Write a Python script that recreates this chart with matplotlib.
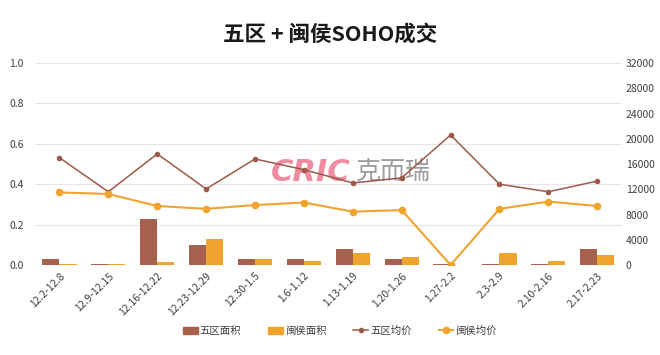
import matplotlib
matplotlib.use("Agg")
import matplotlib.pyplot as plt
import matplotlib.transforms as mtransforms
import numpy as np
from matplotlib.lines import Line2D
from matplotlib.patches import Patch

plt.rcParams['font.family'] = ['Noto Sans CJK SC', 'DejaVu Sans']

categories = ['12.2-12.8', '12.9-12.15', '12.16-12.22', '12.23-12.29', '12.30-1.5', '1.6-1.12',
              '1.13-1.19', '1.20-1.26', '1.27-2.2', '2.3-2.9', '2.10-2.16', '2.17-2.23']
wuqu_area = [0.03, 0.005, 0.23, 0.10, 0.03, 0.03, 0.08, 0.03, 0.005, 0.005, 0.005, 0.08]
minhou_area = [0.005, 0.005, 0.015, 0.13, 0.03, 0.02, 0.06, 0.04, 0.0, 0.06, 0.02, 0.05]
wuqu_price = [17000, 11600, 17600, 12050, 16800, 15100, 13000, 13800, 20600, 12800, 11600, 13300]
minhou_price = [11500, 11250, 9350, 8900, 9500, 9900, 8450, 8700, 0, 8900, 10050, 9350]
left_ticks = [0.0, 0.2, 0.4, 0.6, 0.8, 1.0]
right_ticks = [0, 4000, 8000, 12000, 16000, 20000, 24000, 28000, 32000]

c_brown = '#A5614B'
c_orange = '#F0A42E'
txt = '#404040'

fig = plt.figure(figsize=(6.6, 3.55), dpi=100)
ax = fig.add_axes([0.053, 0.2535, 0.889, 0.569])
ax2 = ax.twinx()

x = np.arange(len(categories))
w = 0.35
ax.bar(x - w/2, wuqu_area, w, color=c_brown, zorder=2)
ax.bar(x + w/2, minhou_area, w, color=c_orange, zorder=2)
ax.set_ylim(0, 1.0)
ax.set_xlim(-0.5, len(categories) - 0.5)
ax.set_yticks(left_ticks)
ax.set_yticklabels([f'{v:.1f}' for v in left_ticks])
ax.grid(axis='y', color='#E6E6E6', linewidth=0.8, zorder=0)
ax.set_axisbelow(True)
ax.set_xticks(x)
ax.set_xticklabels(categories, rotation=45, ha='right', rotation_mode='anchor')
offset = mtransforms.ScaledTranslation(-8/100, 0, fig.dpi_scale_trans)
for lab in ax.get_xticklabels():
    lab.set_transform(lab.get_transform() + offset)

ax2.plot(x, wuqu_price, color='#9C5A4A', linewidth=1.1, marker='o', markersize=3, zorder=3)
ax2.plot(x, minhou_price, color=c_orange, linewidth=1.5, marker='o', markersize=4.5, zorder=3)
ax2.set_ylim(0, 32000)
ax2.set_yticks(right_ticks)

for a in (ax, ax2):
    for s in a.spines.values():
        s.set_visible(False)
    a.tick_params(length=0, labelsize=7.5, colors=txt)
ax.tick_params(axis='x', pad=4)
ax.tick_params(axis='y', pad=8)
ax2.tick_params(axis='y', pad=3)
ax.axhline(0, color='#D9D9D9', linewidth=0.8, zorder=1)

# watermark (under the lines)
ax2.text(0.410, 0.515, 'CRIC', color='#EE7F96', fontsize=22, fontweight='bold',
         fontstyle='italic', family=['DejaVu Sans'], ha='left', va='center', alpha=0.9,
         zorder=1, transform=fig.transFigure)
ax2.text(0.540, 0.515, '克而瑞', color='#8C8C8C', fontsize=18, ha='left', va='center',
         alpha=0.85, zorder=1, transform=fig.transFigure)

fig.text(0.5, 0.905, '五区 + 闽侯SOHO成交', fontsize=15.5, fontweight='bold', color='#1A1A1A',
         ha='center', va='center')

handles = [Patch(color=c_brown, label='五区面积'),
           Patch(color=c_orange, label='闽侯面积'),
           Line2D([0], [0], color='#9C5A4A', lw=1.1, marker='o', markersize=3, label='五区均价'),
           Line2D([0], [0], color=c_orange, lw=1.5, marker='o', markersize=4.5, label='闽侯均价')]
leg = fig.legend(handles=handles, loc='center', bbox_to_anchor=(0.515, 0.068), ncol=4,
                 frameon=False, fontsize=7.5, handlelength=1.4, handleheight=0.6,
                 columnspacing=2.6, handletextpad=0.2)
for t in leg.get_texts():
    t.set_color(txt)

fig.savefig('out.png', dpi=100)
